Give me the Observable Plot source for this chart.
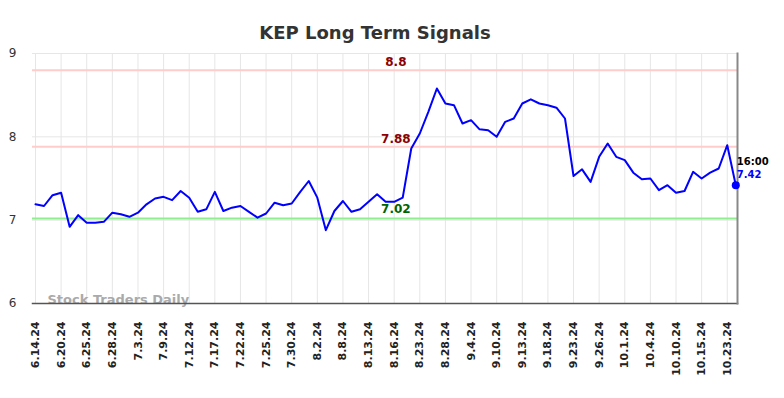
<!DOCTYPE html>
<html><head><meta charset="utf-8">
<script src="https://cdn.jsdelivr.net/npm/d3@7"></script>
<script src="https://cdn.jsdelivr.net/npm/@observablehq/plot@0.6"></script>
<style>body{margin:0;background:#fff;} svg{display:block;}</style>
</head><body><div id="chart"></div>
<script>
const title = "KEP Long Term Signals";
const watermark = "Stock Traders Daily";
const tickLabels = ["6.14.24","6.20.24","6.25.24","6.28.24","7.3.24","7.9.24","7.12.24","7.17.24","7.22.24","7.25.24","7.30.24","8.2.24","8.8.24","8.13.24","8.16.24","8.23.24","8.28.24","9.4.24","9.10.24","9.13.24","9.18.24","9.23.24","9.26.24","10.1.24","10.4.24","10.10.24","10.15.24","10.23.24"];
const values = [7.19,7.17,7.30,7.33,6.92,7.06,6.97,6.97,6.98,7.09,
  7.07,7.04,7.09,7.19,7.26,7.28,7.24,7.35,7.27,7.10,
  7.13,7.34,7.11,7.15,7.17,7.10,7.03,7.08,7.21,7.18,
  7.20,7.34,7.47,7.27,6.88,7.11,7.23,7.10,7.13,7.22,
  7.31,7.22,7.22,7.27,7.86,8.04,8.30,8.58,8.40,8.38,
  8.16,8.20,8.09,8.08,8.00,8.18,8.22,8.40,8.45,8.40,
  8.38,8.35,8.22,7.53,7.61,7.46,7.76,7.92,7.76,7.72,
  7.57,7.49,7.50,7.36,7.42,7.33,7.35,7.58,7.50,7.57,
  7.62,7.90,7.42];
const yTicks = [6, 7, 8, 9];
const resistanceLevels = [8.8, 7.88];
const supportLevels = [7.02];
const lastTime = "16:00";

const data = values.map((v, i) => ({i, v}));
const last = data[data.length - 1];
const tickIdx = tickLabels.map((_, k) => k * 3);
const labelX = 42.2;

const chart = Plot.plot({
  width: 784, height: 398,
  marginLeft: 32, marginRight: 47, marginTop: 53, marginBottom: 95,
  style: {fontFamily: "DejaVu Sans, sans-serif", background: "#fff"},
  x: {type: "linear", domain: [-0.35, 82.2]},
  y: {domain: [6, 9]},
  marks: [
    Plot.gridX(tickIdx, {stroke: "#e6e6e6", strokeOpacity: 1, strokeWidth: 1}),
    Plot.gridY(yTicks, {stroke: "#e6e6e6", strokeOpacity: 1, strokeWidth: 1}),
    Plot.ruleY(resistanceLevels, {stroke: "#ffcccc", strokeWidth: 2}),
    Plot.ruleY(supportLevels, {stroke: "#90ee90", strokeWidth: 2}),
    Plot.text(resistanceLevels, {x: () => labelX, y: d => d, text: d => String(d), dy: -8, fill: "#8b0000", fontWeight: "bold", fontSize: 12}),
    Plot.text(supportLevels, {x: () => labelX, y: d => d, text: d => d.toFixed(2), dy: -9, fill: "#006400", fontWeight: "bold", fontSize: 12}),
    Plot.axisY({ticks: yTicks, tickFormat: d => String(d), tickSize: 0, tickPadding: 16, fontSize: 12, fill: "#333", label: null}),
    Plot.axisX({ticks: tickIdx, tickFormat: d => tickLabels[Math.round(d / 3)], tickRotate: -90, tickSize: 0, tickPadding: 18, fontSize: 11, fontWeight: "bold", fill: "#222", label: null}),
    Plot.text([watermark], {frameAnchor: "bottom-left", dx: 15, textAnchor: "start", fill: "#aaa", fontWeight: "bold", fontSize: 13}),
    Plot.frame({anchor: "bottom", stroke: "#555", strokeWidth: 1.5}),
    Plot.frame({anchor: "right", stroke: "#888", strokeWidth: 2}),
    Plot.line(data, {x: "i", y: "v", stroke: "#0000ff", strokeWidth: 2}),
    Plot.dot([last], {x: "i", y: "v", r: 4, fill: "#0000ff"}),
    Plot.text([last], {x: "i", y: "v", text: () => lastTime, dx: 1, dy: -23, textAnchor: "start", fill: "#000", fontWeight: "bold", fontSize: 10}),
    Plot.text([last], {x: "i", y: "v", text: d => d.v.toFixed(2), dx: 1, dy: -10, textAnchor: "start", fill: "#0000ff", fontWeight: "bold", fontSize: 10}),
    Plot.text([title], {frameAnchor: "top", dy: -27, dx: -10, fill: "#333", fontWeight: "bold", fontSize: 18})
  ]
});
document.getElementById("chart").appendChild(chart);
</script>
</body></html>
